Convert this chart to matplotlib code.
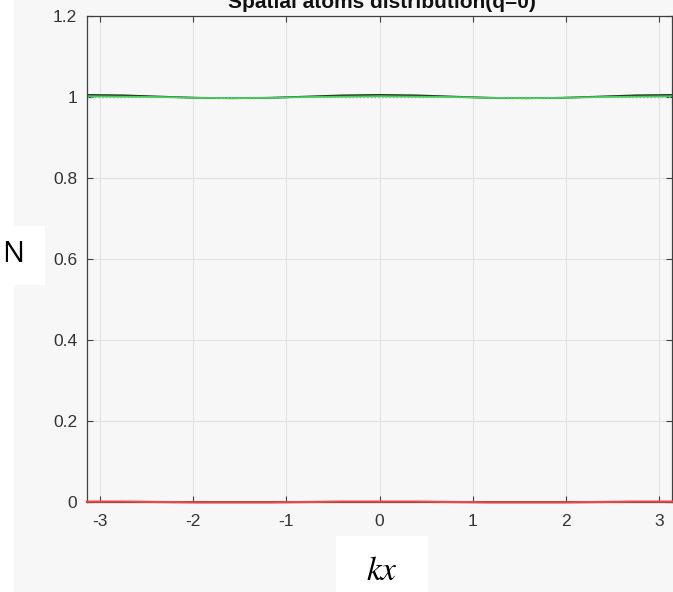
import numpy as np
import matplotlib
matplotlib.use('Agg')
import matplotlib.pyplot as plt
from matplotlib.patches import Rectangle

# kx sample points (pi/8 steps) and the values
kx = np.array([-8, -7, -6, -5, -4, -3, -2, -1, 0, 1, 2, 3, 4, 5, 6, 7, 8]) * np.pi / 8
n_top_black = [1.005, 1.004, 1.001, 0.998, 0.997, 0.998, 1.001, 1.004, 1.005,
               1.004, 1.001, 0.998, 0.997, 0.998, 1.001, 1.004, 1.005]
n_top_green = [1.002, 1.001, 1.000, 0.998, 0.997, 0.998, 1.000, 1.001, 1.002,
               1.001, 1.000, 0.998, 0.997, 0.998, 1.000, 1.001, 1.002]
n_top_blue = [1.000] * 17
n_low_black = [0.000] * 17
n_low_red = [0.001, 0.001, 0.000, -0.001, -0.001, -0.001, 0.000, 0.001, 0.001,
             0.001, 0.000, -0.001, -0.001, -0.001, 0.000, 0.001, 0.001]

xticks = [-3, -2, -1, 0, 1, 2, 3]
yticks = [0, 0.2, 0.4, 0.6, 0.8, 1, 1.2]
yticklabels = ['0', '0.2', '0.4', '0.6', '0.8', '1', '1.2']

W, H = 673, 592
bg = '#f7f7f7'
txt = '#333333'

plt.rcParams['font.family'] = ['Liberation Sans', 'DejaVu Sans']
plt.rcParams['mathtext.fontset'] = 'stix'
fig = plt.figure(figsize=(W / 100, H / 100), dpi=100)
fig.patch.set_facecolor('white')
# grey panel behind the axes
fig.patches.append(Rectangle((14 / W, 0), 1 - 14 / W, 1, transform=fig.transFigure,
                             facecolor=bg, edgecolor='none', zorder=-10))

ax = fig.add_axes([87 / W, 1 - 502 / H, (672 - 87) / W, (502 - 16) / H])
ax.set_facecolor(bg)

ax.plot(kx, n_top_black, color='#202020', lw=1.3)
ax.plot(kx, n_top_green, color='#33dd33', lw=1.3)
ax.plot(kx, n_top_blue, color='#8aa8d8', lw=1.0, ls=':')
ax.plot(kx, n_low_black, color='#303030', lw=1.3, clip_on=False, zorder=3)
ax.plot(kx, n_low_red, color='#e84848', lw=1.6, clip_on=False, zorder=4)

ax.set_xlim(-np.pi, np.pi)
ax.set_ylim(0, 1.2)
ax.set_xticks(xticks)
ax.set_xticklabels([str(t) for t in xticks])
ax.set_yticks(yticks)
ax.set_yticklabels(yticklabels)
ax.grid(True, color='#e2e2e2', lw=0.8)
ax.set_axisbelow(True)
ax.tick_params(direction='in', length=4, width=0.8, color='#404040',
               labelcolor=txt, labelsize=12.5, top=True, right=True)
ax.tick_params(axis='x', pad=9)
ax.tick_params(axis='y', pad=7)
for s in ax.spines.values():
    s.set_color('#404040')
    s.set_linewidth(0.9)

# title, clipped at the top edge as in the screenshot
fig.text(382 / W, 1 - 8 / H, 'Spatial atoms distribution(q=0)', ha='center',
         va='baseline', fontsize=15, fontweight='bold', color='#111111')

# pasted label boxes
fig.patches.append(Rectangle((0, 1 - 285 / H), 45 / W, 59 / H, transform=fig.transFigure,
                             facecolor='white', edgecolor='none', zorder=5))
fig.text(13 / W, 1 - 255 / H, 'N', ha='center', va='center', fontsize=21,
         family='Open Sans', color='black', zorder=6)
fig.patches.append(Rectangle((336 / W, 0), 92 / W, 56 / H, transform=fig.transFigure,
                             facecolor='white', edgecolor='none', zorder=5))
fig.text(382 / W, 1 - 571 / H, '$kx$', ha='center', va='center', fontsize=24,
         color='black', zorder=6)

fig.savefig('out.png', dpi=100)
